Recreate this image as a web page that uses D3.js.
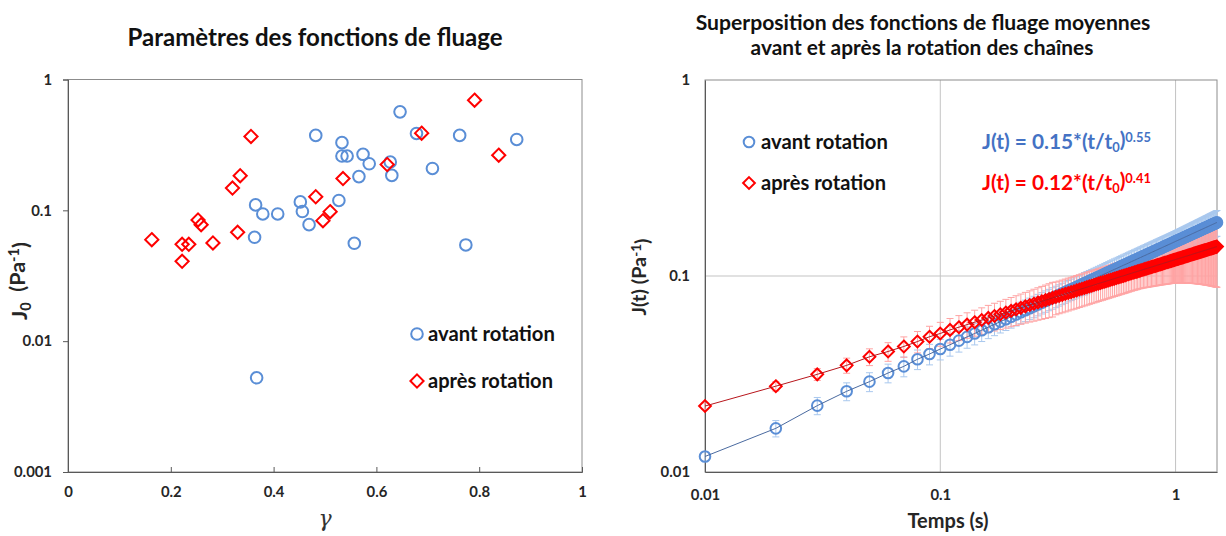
<!DOCTYPE html>
<html>
<head>
<meta charset="utf-8">
<title>Fonctions de fluage</title>
<style>
  body { margin: 0; background: #fff; }
  text { font-family: Lato, "Liberation Sans", sans-serif; }
</style>
</head>
<body>
<script src="https://cdnjs.cloudflare.com/ajax/libs/d3/7.8.5/d3.min.js"></script>
<script>
// ---- données : graphique de gauche (paramètres J0 en fonction de gamma)
var gammaAvant = [0.646,0.482,0.533,0.533,0.543,0.574,0.586,0.627,0.630,0.566,0.678,0.762,0.873,0.709,0.527,0.452,0.456,0.469,0.365,0.379,0.408,0.363,0.557,0.774,0.367];
var j0Avant = [0.566,0.374,0.329,0.260,0.260,0.268,0.227,0.234,0.185,0.181,0.387,0.374,0.348,0.209,0.119,0.116,0.098,0.0777,0.110,0.0938,0.0938,0.0622,0.056,0.0544,0.00525];
var gammaApres = [0.791,0.356,0.688,0.838,0.621,0.535,0.335,0.320,0.482,0.510,0.496,0.253,0.259,0.330,0.163,0.222,0.235,0.282,0.222];
var j0Apres = [0.695,0.367,0.389,0.264,0.224,0.175,0.184,0.148,0.127,0.0977,0.0834,0.0844,0.0777,0.0679,0.0597,0.055,0.055,0.0563,0.0408];

// ---- données : graphique de droite (fonctions de fluage moyennes)
var temps = [
0.01,0.02,0.03,0.04,0.05,0.06,0.07,0.08,0.09,0.10,
0.11,0.12,0.13,0.14,0.15,0.16,0.17,0.18,0.19,0.20,
0.21,0.22,0.23,0.24,0.25,0.26,0.27,0.28,0.29,0.30,
0.31,0.32,0.33,0.34,0.35,0.36,0.37,0.38,0.39,0.40,
0.41,0.42,0.43,0.44,0.45,0.46,0.47,0.48,0.49,0.50,
0.51,0.52,0.53,0.54,0.55,0.56,0.57,0.58,0.59,0.60,
0.61,0.62,0.63,0.64,0.65,0.66,0.67,0.68,0.69,0.70,
0.71,0.72,0.73,0.74,0.75,0.76,0.77,0.78,0.79,0.80,
0.81,0.82,0.83,0.84,0.85,0.86,0.87,0.88,0.89,0.90,
0.91,0.92,0.93,0.94,0.95,0.96,0.97,0.98,0.99,1.00,
1.01,1.02,1.03,1.04,1.05,1.06,1.07,1.08,1.09,1.10,
1.11,1.12,1.13,1.14,1.15,1.16,1.17,1.18,1.19,1.20,
1.21,1.22,1.23,1.24,1.25,1.26,1.27,1.28,1.29,1.30,
1.31,1.32,1.33,1.34,1.35,1.36,1.37,1.38,1.39,1.40,
1.41,1.42,1.43,1.44,1.45,1.46,1.47,1.48,1.49,1.50];
var jAvant = [
0.0120,0.0167,0.0218,0.0258,0.0289,0.0320,0.0346,0.0376,0.0400,0.0424,
0.0446,0.0468,0.0489,0.0509,0.0529,0.0548,0.0567,0.0585,0.0602,0.0620,
0.0636,0.0653,0.0669,0.0685,0.0700,0.0716,0.0731,0.0746,0.0760,0.0774,
0.0788,0.0802,0.0816,0.0830,0.0843,0.0856,0.0869,0.0882,0.0895,0.0907,
0.0920,0.0932,0.0944,0.0956,0.0968,0.0980,0.0991,0.1003,0.1014,0.1026,
0.1037,0.1048,0.1059,0.1070,0.1081,0.1091,0.1102,0.1113,0.1123,0.1134,
0.1144,0.1154,0.1164,0.1175,0.1185,0.1195,0.1204,0.1214,0.1224,0.1234,
0.1243,0.1253,0.1263,0.1272,0.1281,0.1291,0.1300,0.1309,0.1319,0.1328,
0.1337,0.1346,0.1355,0.1364,0.1373,0.1382,0.1390,0.1399,0.1408,0.1417,
0.1425,0.1434,0.1442,0.1451,0.1459,0.1468,0.1476,0.1485,0.1493,0.1502,
0.1510,0.1518,0.1526,0.1534,0.1542,0.1550,0.1558,0.1566,0.1574,0.1582,
0.1590,0.1598,0.1606,0.1614,0.1621,0.1629,0.1637,0.1645,0.1652,0.1660,
0.1667,0.1675,0.1683,0.1690,0.1698,0.1705,0.1712,0.1720,0.1727,0.1734,
0.1742,0.1749,0.1756,0.1764,0.1771,0.1778,0.1785,0.1792,0.1800,0.1807,
0.1814,0.1821,0.1828,0.1835,0.1842,0.1849,0.1856,0.1863,0.1870,0.1877];
var errAvant = [
0.0007,0.0016,0.0022,0.0027,0.0032,0.0035,0.0040,0.0043,0.0048,0.0051,
0.0056,0.0059,0.0061,0.0064,0.0066,0.0069,0.0071,0.0073,0.0075,0.0078,
0.0080,0.0082,0.0084,0.0086,0.0088,0.0090,0.0091,0.0093,0.0095,0.0097,
0.0099,0.0100,0.0102,0.0104,0.0105,0.0107,0.0109,0.0110,0.0112,0.0113,
0.0120,0.0121,0.0123,0.0124,0.0126,0.0127,0.0129,0.0130,0.0132,0.0133,
0.0135,0.0136,0.0138,0.0139,0.0141,0.0142,0.0143,0.0145,0.0146,0.0147,
0.0149,0.0150,0.0151,0.0153,0.0154,0.0155,0.0157,0.0158,0.0159,0.0160,
0.0162,0.0163,0.0164,0.0165,0.0167,0.0168,0.0169,0.0170,0.0171,0.0173,
0.0174,0.0175,0.0176,0.0177,0.0178,0.0180,0.0181,0.0182,0.0183,0.0184,
0.0185,0.0186,0.0187,0.0189,0.0190,0.0191,0.0192,0.0193,0.0194,0.0195,
0.0197,0.0199,0.0200,0.0202,0.0204,0.0205,0.0207,0.0209,0.0210,0.0212,
0.0214,0.0215,0.0217,0.0219,0.0220,0.0222,0.0224,0.0226,0.0227,0.0229,
0.0231,0.0232,0.0234,0.0236,0.0238,0.0239,0.0241,0.0243,0.0245,0.0246,
0.0248,0.0250,0.0251,0.0253,0.0255,0.0257,0.0258,0.0260,0.0262,0.0264,
0.0266,0.0267,0.0269,0.0271,0.0273,0.0274,0.0276,0.0278,0.0280,0.0282];
var jApres = [
0.0217,0.0274,0.0315,0.0350,0.0387,0.0412,0.0437,0.0463,0.0490,0.0509,
0.0531,0.0548,0.0565,0.0581,0.0596,0.0611,0.0625,0.0638,0.0651,0.0664,
0.0676,0.0688,0.0700,0.0711,0.0722,0.0733,0.0743,0.0753,0.0763,0.0773,
0.0783,0.0792,0.0801,0.0810,0.0819,0.0828,0.0836,0.0845,0.0853,0.0861,
0.0869,0.0877,0.0885,0.0892,0.0900,0.0907,0.0915,0.0922,0.0929,0.0936,
0.0943,0.0950,0.0957,0.0963,0.0970,0.0977,0.0983,0.0990,0.0996,0.1002,
0.1008,0.1015,0.1021,0.1027,0.1033,0.1039,0.1045,0.1050,0.1056,0.1062,
0.1067,0.1073,0.1079,0.1084,0.1090,0.1095,0.1100,0.1106,0.1111,0.1116,
0.1122,0.1127,0.1132,0.1137,0.1142,0.1147,0.1152,0.1157,0.1162,0.1167,
0.1172,0.1176,0.1181,0.1186,0.1191,0.1195,0.1200,0.1205,0.1209,0.1214,
0.1218,0.1223,0.1227,0.1232,0.1236,0.1240,0.1245,0.1249,0.1254,0.1258,
0.1262,0.1266,0.1271,0.1275,0.1279,0.1283,0.1287,0.1291,0.1296,0.1300,
0.1304,0.1308,0.1312,0.1316,0.1320,0.1324,0.1328,0.1331,0.1335,0.1339,
0.1343,0.1347,0.1351,0.1354,0.1358,0.1362,0.1366,0.1370,0.1373,0.1377,
0.1381,0.1384,0.1388,0.1392,0.1395,0.1399,0.1402,0.1406,0.1409,0.1413];
var errApres = [
0.0008,0.0015,0.0022,0.0031,0.0038,0.0045,0.0052,0.0058,0.0064,0.0071,
0.0076,0.0080,0.0084,0.0088,0.0092,0.0097,0.0101,0.0105,0.0109,0.0113,
0.0117,0.0121,0.0125,0.0129,0.0134,0.0138,0.0142,0.0146,0.0150,0.0155,
0.0149,0.0150,0.0152,0.0154,0.0156,0.0157,0.0159,0.0161,0.0162,0.0164,
0.0165,0.0167,0.0168,0.0169,0.0171,0.0172,0.0174,0.0175,0.0177,0.0178,
0.0179,0.0181,0.0182,0.0183,0.0184,0.0186,0.0187,0.0188,0.0189,0.0190,
0.0192,0.0193,0.0194,0.0195,0.0196,0.0197,0.0199,0.0200,0.0201,0.0202,
0.0205,0.0207,0.0210,0.0213,0.0216,0.0219,0.0222,0.0225,0.0228,0.0231,
0.0234,0.0237,0.0240,0.0243,0.0246,0.0249,0.0251,0.0255,0.0258,0.0261,
0.0264,0.0267,0.0270,0.0273,0.0276,0.0279,0.0282,0.0285,0.0288,0.0291,
0.0296,0.0300,0.0305,0.0309,0.0314,0.0318,0.0323,0.0328,0.0333,0.0337,
0.0342,0.0346,0.0351,0.0356,0.0361,0.0365,0.0370,0.0375,0.0380,0.0385,
0.0390,0.0394,0.0399,0.0404,0.0409,0.0414,0.0419,0.0424,0.0429,0.0434,
0.0439,0.0444,0.0449,0.0454,0.0459,0.0464,0.0469,0.0475,0.0479,0.0485,
0.0490,0.0495,0.0500,0.0506,0.0511,0.0516,0.0521,0.0526,0.0531,0.0537];

// ---- graduations
var ticksGamma = [0, 0.2, 0.4, 0.6, 0.8, 1];
var labelsGamma = ["0", "0.2", "0.4", "0.6", "0.8", "1"];
var ticksJ0 = [0.001, 0.01, 0.1, 1];
var labelsJ0 = ["0.001", "0.01", "0.1", "1"];
var ticksTemps = [0.01, 0.1, 1];
var labelsTemps = ["0.01", "0.1", "1"];
var ticksJt = [0.01, 0.1, 1];
var labelsJt = ["0.01", "0.1", "1"];

var bleu = "#5a8ed6", rouge = "#ff0000";
var width = 1226, height = 536;

var svg = d3.select('body').append('svg')
        .attr('width', width)
        .attr('height', height);
svg.append('rect').attr('width', width).attr('height', height).attr('fill', '#fff');

// ajuste la taille de police pour obtenir la largeur voulue (Calibri absent)
function ajuste(sel, largeur) {
    var w = sel.node().getComputedTextLength();
    var fs = parseFloat(sel.attr('font-size'));
    sel.attr('font-size', (fs * largeur / w).toFixed(2));
    return sel;
}

function cercle(g, x, y, r) {
    g.append('circle').attr('cx', x).attr('cy', y).attr('r', r)
        .attr('fill', 'none').attr('stroke', bleu).attr('stroke-width', 2);
}
function losange(g, x, y, s) {
    g.append('path')
        .attr('d', 'M' + x + ',' + (y - s) + 'L' + (x + s) + ',' + y + 'L' + x + ',' + (y + s) + 'L' + (x - s) + ',' + y + 'Z')
        .attr('fill', 'none').attr('stroke', rouge).attr('stroke-width', 2);
}
function texte(g, x, y, taille, contenu) {
    return g.append('text').attr('x', x).attr('y', y).attr('font-size', taille)
        .attr('font-weight', 'bold').attr('fill', '#111').text(contenu);
}

// taille des graduations, calée sur la largeur de « 0.001 »
var essai = texte(svg, 0, -50, 14, '0.001');
ajuste(essai, 38);
var tailleTick = +essai.attr('font-size');
essai.remove();

function styleAxe(a) {
    a.select('.domain').attr('stroke', '#595959');
    a.selectAll('.tick line').attr('stroke', '#595959');
    a.selectAll('.tick text').attr('font-size', tailleTick).attr('font-weight', 'bold')
        .attr('fill', '#262626').style('font-family', 'Lato, "Liberation Sans", sans-serif');
}

// =================== graphique de gauche ===================
var xL = d3.scaleLinear().domain([0, 1]).range([68, 582]);
var yL = d3.scaleLog().domain([0.001, 1]).range([472, 79.5]);
var gL = svg.append('g');

ajuste(texte(gL, 315, 46, 20, 'Paramètres des fonctions de fluage').attr('text-anchor', 'middle'), 375);

gL.append('rect').attr('x', xL(0)).attr('y', yL(1))
    .attr('width', xL(1) - xL(0)).attr('height', yL(0.001) - yL(1))
    .attr('fill', 'none').attr('stroke', '#8c8c8c').attr('stroke-width', 1);

var axeYL = gL.append('g').attr('transform', 'translate(' + xL(0) + ',0)')
    .call(d3.axisLeft(yL).tickValues(ticksJ0).tickSize(5).tickPadding(11)
        .tickFormat(function (d, i) { return labelsJ0[i]; }));
var axeXL = gL.append('g').attr('transform', 'translate(0,' + yL(0.001) + ')')
    .call(d3.axisBottom(xL).tickValues(ticksGamma).tickSize(-5).tickPadding(14)
        .tickFormat(function (d, i) { return labelsGamma[i]; }));
styleAxe(axeYL);
styleAxe(axeXL);

// titres d'axes
gL.append('text').attr('x', 325).attr('y', 526).attr('text-anchor', 'middle')
    .attr('font-size', 22).attr('font-style', 'italic').attr('fill', '#333')
    .style('font-family', '"DejaVu Serif", "Liberation Serif", serif').text('γ');
var tJ0 = gL.append('text').attr('transform', 'translate(27,281) rotate(-90)')
    .attr('text-anchor', 'middle').attr('font-size', 16).attr('font-weight', 'bold').attr('fill', '#262626');
tJ0.append('tspan').text('J');
tJ0.append('tspan').attr('dy', '0.25em').attr('font-size', '0.68em').text('0');
tJ0.append('tspan').attr('dy', '-0.25em').text('\u00a0 (Pa');
tJ0.append('tspan').attr('dy', '-0.4em').attr('font-size', '0.68em').text('-1');
tJ0.append('tspan').attr('dy', '0.4em').text(')');
ajuste(tJ0, 78);

// points
var ptsL = gL.append('g');
gammaAvant.forEach(function (g, i) { cercle(ptsL, xL(g), yL(j0Avant[i]), 5.8); });
gammaApres.forEach(function (g, i) { losange(ptsL, xL(g), yL(j0Apres[i]), 6.6); });

// légende
cercle(gL, 417, 334, 5.8);
ajuste(texte(gL, 428, 341, 18, 'avant rotation'), 127);
losange(gL, 417, 381, 6.6);
ajuste(texte(gL, 428, 388, 18, 'après rotation'), 125);

// =================== graphique de droite ===================
var xR = d3.scaleLog().domain([0.01, 1.5]).range([705, 1217]);
var yR = d3.scaleLog().domain([0.01, 1]).range([472, 80]);
var gR = svg.append('g');

ajuste(texte(gR, 923, 30, 20, 'Superposition des fonctions de fluage moyennes').attr('text-anchor', 'middle'), 455);
ajuste(texte(gR, 922, 55, 20, 'avant et après la rotation des chaînes').attr('text-anchor', 'middle'), 343);

// grille
gR.append('g').selectAll('line').data([0.1, 1]).enter().append('line')
    .attr('x1', function (d) { return xR(d); }).attr('x2', function (d) { return xR(d); })
    .attr('y1', yR(1)).attr('y2', yR(0.01)).attr('stroke', '#c3c3c3');
gR.append('g').selectAll('line').data([0.1]).enter().append('line')
    .attr('x1', xR(0.01)).attr('x2', xR(1.5))
    .attr('y1', function (d) { return yR(d); }).attr('y2', function (d) { return yR(d); })
    .attr('stroke', '#c3c3c3');
gR.append('rect').attr('x', xR(0.01)).attr('y', yR(1))
    .attr('width', xR(1.5) - xR(0.01)).attr('height', yR(0.01) - yR(1))
    .attr('fill', 'none').attr('stroke', '#8c8c8c').attr('stroke-width', 1);

var axeYR = gR.append('g').attr('transform', 'translate(' + xR(0.01) + ',0)')
    .call(d3.axisLeft(yR).tickValues(ticksJt).tickSize(0).tickPadding(15)
        .tickFormat(function (d, i) { return labelsJt[i]; }));
var axeXR = gR.append('g').attr('transform', 'translate(0,' + yR(0.01) + ')')
    .call(d3.axisBottom(xR).tickValues(ticksTemps).tickSize(0).tickPadding(17)
        .tickFormat(function (d, i) { return labelsTemps[i]; }));
styleAxe(axeYR);
styleAxe(axeXR);

ajuste(texte(gR, 948, 528, 16, 'Temps (s)').attr('text-anchor', 'middle').attr('fill', '#262626'), 81);
var tJt = gR.append('text').attr('transform', 'translate(646,277) rotate(-90)')
    .attr('text-anchor', 'middle').attr('font-size', 16).attr('font-weight', 'bold').attr('fill', '#262626');
tJt.append('tspan').text('J(t) (Pa');
tJt.append('tspan').attr('dy', '-0.4em').attr('font-size', '0.68em').text('-1');
tJt.append('tspan').attr('dy', '0.4em').text(')');
ajuste(tJt, 77);

// séries : barres d'erreur, marqueurs, lignes
function barres(t, j, err, couleur) {
    var eb = gR.append('g').attr('stroke', couleur).attr('stroke-width', 1);
    t.forEach(function (tt, i) {
        var x = xR(tt), y1 = yR(j[i] + err[i]), y0 = yR(j[i] - err[i]);
        eb.append('line').attr('x1', x).attr('x2', x).attr('y1', y1).attr('y2', y0);
        eb.append('line').attr('x1', x - 3.5).attr('x2', x + 3.5).attr('y1', y1).attr('y2', y1);
        eb.append('line').attr('x1', x - 3.5).attr('x2', x + 3.5).attr('y1', y0).attr('y2', y0);
    });
}
function marques(t, j, marqueur) {
    var g = gR.append('g');
    t.forEach(function (tt, i) { marqueur(g, xR(tt), yR(j[i])); });
}
function ligne(t, j, couleur) {
    var line = d3.line().x(function (d) { return xR(d[0]); }).y(function (d) { return yR(d[1]); });
    gR.append('path').datum(d3.zip(t, j)).attr('d', line)
        .attr('fill', 'none').attr('stroke', couleur).attr('stroke-width', 1);
}

barres(temps, jAvant, errAvant, '#a9c8ee');
barres(temps, jApres, errApres, '#ffa3a3');
marques(temps, jAvant, function (g, x, y) { cercle(g, x, y, 5.3); });
ligne(temps, jAvant, '#4a6aa0');
marques(temps, jApres, function (g, x, y) { losange(g, x, y, 5.9); });
ligne(temps, jApres, '#b8161c');

// légende et équations
cercle(gR, 749, 142, 5.3);
ajuste(texte(gR, 761, 149, 18, 'avant rotation'), 127);
losange(gR, 749, 183, 5.9);
ajuste(texte(gR, 761, 190, 18, 'après rotation'), 125);

function equation(y, coef, expo, couleur) {
    var t = gR.append('text').attr('x', 982).attr('y', y).attr('font-size', 18)
        .attr('font-weight', 'bold').attr('fill', couleur);
    t.append('tspan').text('J(t) = ' + coef + '*(t/t');
    t.append('tspan').attr('dy', '0.25em').attr('font-size', '0.62em').text('0');
    t.append('tspan').attr('dy', '-0.25em').text(')');
    t.append('tspan').attr('dy', '-0.42em').attr('font-size', '0.62em').text(expo);
    ajuste(t, 169);
}
equation(149, '0.15', '0.55', '#4472c4');
equation(190, '0.12', '0.41', '#ff0000');
</script>
</body>
</html>
